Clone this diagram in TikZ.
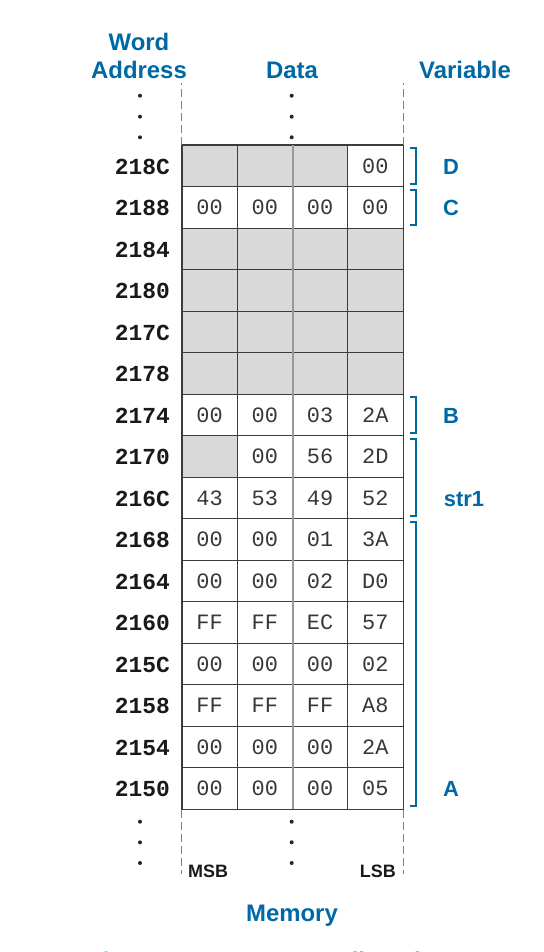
\documentclass[tikz,border=0pt]{standalone}
\usepackage{fontspec}
\setmainfont{Liberation Sans}
\newfontfamily\monof{Liberation Mono}
\definecolor{hblue}{RGB}{0,104,165}
\definecolor{cellgray}{RGB}{217,217,217}
\definecolor{gridc}{RGB}{60,60,60}
\definecolor{valc}{RGB}{55,55,55}
\begin{document}
\begin{tikzpicture}[x=1bp,y=-1bp,
  head/.style={font=\fontsize{24}{28}\selectfont\bfseries, text=hblue, inner sep=0, anchor=base},
  addr/.style={font=\monof\bfseries\fontsize{23}{26}\selectfont, text=black!90, anchor=base east, inner sep=0},
  cell/.style={draw=gridc, line width=0.8bp, minimum width=55.25bp, minimum height=41.5bp, inner sep=0, font=\monof\fontsize{22}{24}\selectfont, text=valc},
  graycell/.style={cell, fill=cellgray},
  varlab/.style={font=\fontsize{22}{26}\selectfont\bfseries, text=hblue, inner sep=0, anchor=base},
  brk/.style={draw=hblue, line width=1.8bp},
  dashv/.style={draw=gray, line width=0.8bp, dash pattern=on 8bp off 4bp},
  midline/.style={draw=gray!80, line width=1.5bp},
  dotc/.style={circle, fill=black!85, draw=none, inner sep=0, minimum size=4bp},
  bytelab/.style={font=\fontsize{18}{20}\selectfont\bfseries, text=black!90, inner sep=0}]
\clip (0,0) rectangle (544,952);
% headers
\node[head] (hword) at (139,50) {Word};
\node[head] (haddr) at (139,78.3) {Address};
\node[head] (hdata) at (292,78.3) {Data};
\node[head] (hvar)  at (465,78.3) {Variable};
% memory rows
\def\g{g}
\foreach \ad/\va/\vb/\vc/\vd [count=\i from 0] in {
  218C/g/g/g/00, 2188/00/00/00/00, 2184/g/g/g/g, 2180/g/g/g/g,
  217C/g/g/g/g, 2178/g/g/g/g, 2174/00/00/03/2A, 2170/g/00/56/2D,
  216C/43/53/49/52, 2168/00/00/01/3A, 2164/00/00/02/D0, 2160/FF/FF/EC/57,
  215C/00/00/00/02, 2158/FF/FF/FF/A8, 2154/00/00/00/2A, 2150/00/00/00/05}{
  \pgfmathsetmacro{\yc}{166+41.5*\i}
  \node[addr] (a\i) at (170,\yc+8) {\ad};
  \foreach \v [count=\j from 0] in {\va,\vb,\vc,\vd}{
    \pgfmathsetmacro{\xc}{209.6+55.25*\j}
    \edef\tmp{\v}
    \ifx\tmp\g
      \node[graycell] (c\i-\j) at (\xc,\yc) {};
    \else
      \node[cell] (c\i-\j) at (\xc,\yc) {\v};
    \fi
  }
}
\draw[midline] (c0-1.north east) -- (c15-1.south east);
\draw[draw=gridc, line width=0.9bp] (c0-0.north west) rectangle (c15-3.south east);
% dashed extensions
\draw[dashv] (c0-0.north west) -- ++(0,-62);
\draw[dashv] (c0-3.north east) -- ++(0,-62);
\draw[dashv] (c15-0.south west) -- ++(0,64);
\draw[dashv] (c15-3.south east) -- ++(0,64);
% dots
\foreach \k/\yy in {1/95.7,2/116.7,3/137.3}{
  \node[dotc] (tl\k) at (140,\yy) {};
  \node[dotc] (tm\k) at (291.7,\yy) {};
}
\foreach \k/\yy in {1/821.7,2/842.3,3/863}{
  \node[dotc] (bl\k) at (140,\yy) {};
  \node[dotc] (bm\k) at (291.7,\yy) {};
}
% brackets
\draw[brk] ([xshift=6.5bp,yshift=-3.5bp]c0-3.north east) -- ++(6,0) |- ([xshift=6.5bp,yshift=3.5bp]c0-3.south east);
\draw[brk] ([xshift=6.5bp,yshift=-3.5bp]c1-3.north east) -- ++(6,0) |- ([xshift=6.5bp,yshift=3.5bp]c1-3.south east);
\draw[brk] ([xshift=6.5bp,yshift=-3.5bp]c6-3.north east) -- ++(6,0) |- ([xshift=6.5bp,yshift=3.5bp]c6-3.south east);
\draw[brk] ([xshift=6.5bp,yshift=-3.5bp]c7-3.north east) -- ++(6,0) |- ([xshift=6.5bp,yshift=3.5bp]c8-3.south east);
\draw[brk] ([xshift=6.5bp,yshift=-3.5bp]c9-3.north east) -- ++(6,0) |- ([xshift=6.5bp,yshift=3.5bp]c15-3.south east);
% variable labels
\node[varlab] (vD) at (451,174) {D};
\node[varlab] (vC) at (451,215.5) {C};
\node[varlab] (vB) at (451,423) {B};
\node[varlab] (vstr) at (464,506) {str1};
\node[varlab] (vA) at (451,796.5) {A};
% byte labels
\node[bytelab, anchor=base west] (msb) at (188,877.7) {MSB};
\node[bytelab, anchor=base east] (lsb) at (396,877.7) {LSB};
\node[head] (mem) at (292,921.3) {Memory};
% caption (cut off at the lower edge, as in the reference)
\node[head, anchor=base west] (capfig) at (88,969) {Figure};
\node[head, anchor=base west] (capnum) at (173,969) {6.23};
\node[head, anchor=base west, text=black!90] (captxt) at (240,969) {Memory allocation};
\end{tikzpicture}
\end{document}
